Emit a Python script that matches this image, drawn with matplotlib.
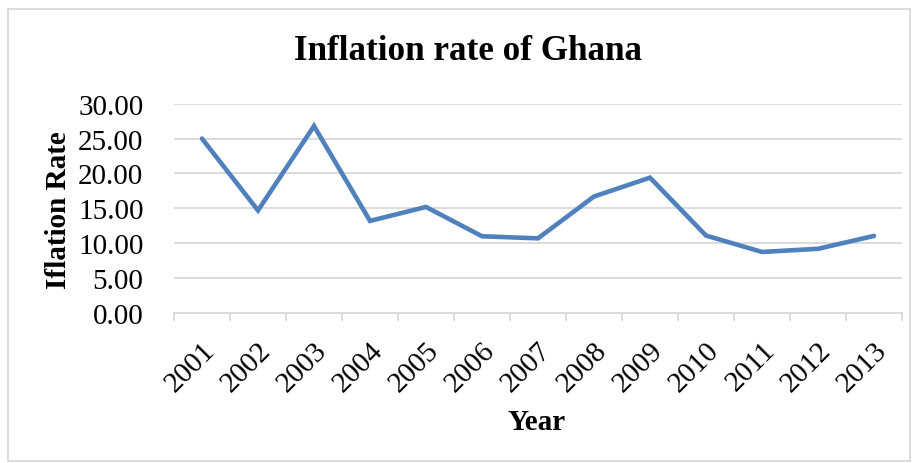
import matplotlib
matplotlib.use('Agg')
import matplotlib.pyplot as plt
import numpy as np

## Data
years = ['2001', '2002', '2003', '2004', '2005', '2006', '2007',
         '2008', '2009', '2010', '2011', '2012', '2013']
inflation = [25.0, 14.7, 26.8, 13.2, 15.2, 11.0, 10.7,
             16.7, 19.4, 11.1, 8.75, 9.2, 11.05]
yticks = [0, 5, 10, 15, 20, 25, 30]

plt.rcParams['font.family'] = ['Liberation Serif', 'DejaVu Serif']

fig = plt.figure(figsize=(9.18, 4.64), dpi=100)
W, H = 918, 464
ax = fig.add_axes([174 / W, 1 - 314 / H, (902 - 174) / W, (314 - 104.7) / H])

x = np.arange(len(years))
ax.plot(x, inflation, color='#4F81BD', linewidth=3.3, solid_capstyle='round',
        solid_joinstyle='miter')

ax.set_xlim(-0.5, len(years) - 0.5)
ax.set_ylim(0, 30)
ax.set_yticks(yticks)
ax.set_yticklabels(['%.2f' % v for v in yticks], fontsize=21)
ax.yaxis.grid(True, color='#D9D9D9', linewidth=1.3)
ax.set_axisbelow(True)

ax.set_xticks(x)
ax.set_xticklabels(years, fontsize=21, rotation=45, ha='right',
                   rotation_mode='anchor')
ax.set_xticks(np.arange(-0.5, len(years)), minor=True)
ax.tick_params(axis='x', which='major', length=0, pad=17)
ax.tick_params(axis='x', which='minor', length=6, color='#D9D9D9', width=1.3)
ax.tick_params(axis='y', length=0, pad=22)

for s in ['top', 'right', 'left']:
    ax.spines[s].set_visible(False)
ax.spines['bottom'].set_color('#D9D9D9')
ax.spines['bottom'].set_linewidth(1.3)

fig.text(468 / W, 1 - 51 / H, 'Inflation rate of Ghana', fontsize=25.3,
         fontweight='bold', ha='center', va='center')
fig.text(537 / W, 1 - 423 / H, 'Year', fontsize=21, fontweight='bold',
         ha='center', va='center')
fig.text(59 / W, 1 - 210 / H, 'Iflation Rate', fontsize=21, fontweight='bold',
         ha='center', va='center', rotation=90)

## light border round the chart
border = plt.Rectangle((8 / W, 1 - 462 / H), (910 - 8) / W, (462 - 10) / H,
                       transform=fig.transFigure, fill=False,
                       edgecolor='#D9D9D9', linewidth=1.3)
fig.patches.append(border)

fig.savefig('out.png', dpi=100)
